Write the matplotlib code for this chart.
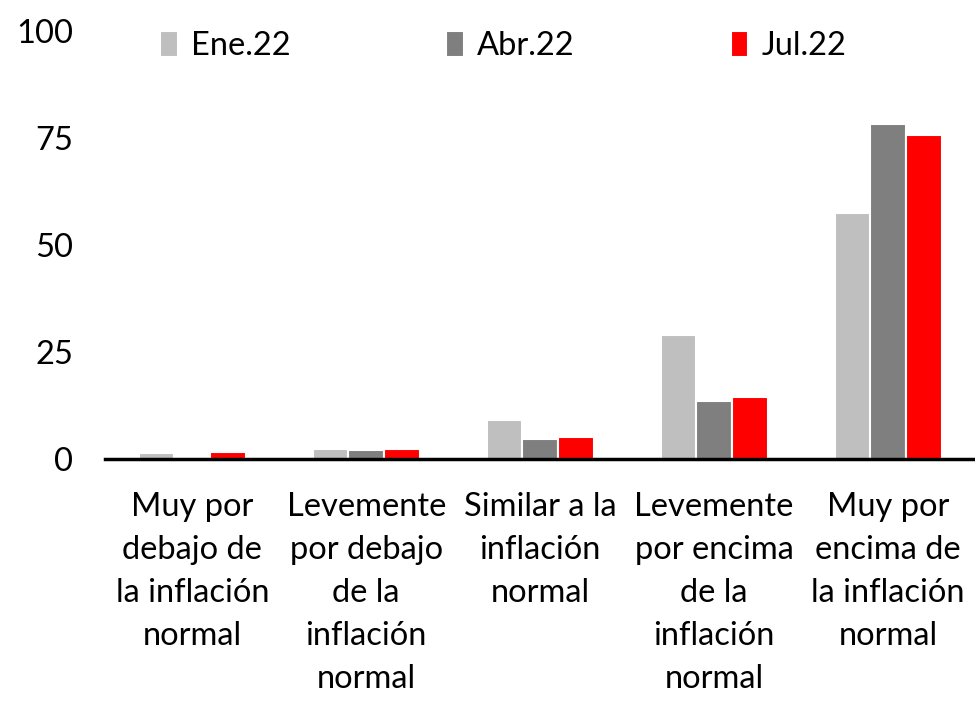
import matplotlib
matplotlib.use("Agg")
import matplotlib.pyplot as plt
import numpy as np

categories = ["Muy por\ndebajo de\nla inflación\nnormal",
              "Levemente\npor debajo\nde la\ninflación\nnormal",
              "Similar a la\ninflación\nnormal",
              "Levemente\npor encima\nde la\ninflación\nnormal",
              "Muy por\nencima de\nla inflación\nnormal"]
series_names = ["Ene.22", "Abr.22", "Jul.22"]
ene22 = [1.4, 2.3, 9.1, 28.9, 57.5]
abr22 = [0.5, 2.1, 4.7, 13.6, 78.3]
jul22 = [1.7, 2.3, 5.1, 14.4, 75.7]
colors = ["#BFBFBF", "#7F7F7F", "#FF0000"]
yticks = [0, 25, 50, 75, 100]

plt.rcParams['font.family'] = ['Lato', 'DejaVu Sans']
plt.rcParams['text.color'] = 'black'

FS = 23.5
fig = plt.figure(figsize=(9.75, 7.02), dpi=100)
ax = fig.add_axes([0.108, 0.346, 0.892, 0.61])
x = np.arange(len(categories))
w = 0.205
for i, (vals, name, c) in enumerate(zip([ene22, abr22, jul22], series_names, colors)):
    ax.bar(x + (i - 1) * w, vals, width=w, color=c, edgecolor="white", linewidth=1.5, label=name)

ax.set_xlim(-0.5, 4.5)
ax.set_ylim(0, 100)
ax.set_yticks(yticks)
ax.set_yticklabels([str(t) for t in yticks], fontsize=FS, color='black')
ax.set_xticks(x)
ax.set_xticklabels(categories, fontsize=FS, linespacing=1.54, color='black')
ax.tick_params(axis='x', length=0, pad=24)
ax.tick_params(axis='y', length=0, pad=23)
for s in ['top', 'right', 'left']:
    ax.spines[s].set_visible(False)
ax.spines['bottom'].set_linewidth(2.5)
ax.spines['bottom'].set_color('black')

leg = ax.legend(loc='center left', bbox_to_anchor=(0.029, 0.965), ncol=3, frameon=False,
                handlelength=0.55, handleheight=0.85, handletextpad=0.4,
                columnspacing=4.77, prop={'size': FS})
fig.savefig("out.png", dpi=100)
